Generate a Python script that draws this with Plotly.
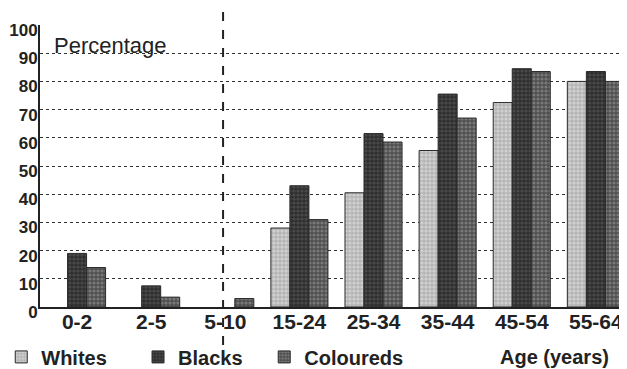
import plotly.graph_objects as go

age_groups = ["0-2", "2-5", "5-10", "15-24", "25-34", "35-44", "45-54", "55-64"]
whites = [None, None, None, 28, 40.5, 55.5, 72.5, 80]
blacks = [19, 7.5, None, 43, 61.5, 75.5, 84.5, 83.5]
coloureds = [14, 3.5, 3, 31, 58.5, 67, 83.5, 80]
y_ticks = [0, 10, 20, 30, 40, 50, 60, 70, 80, 90, 100]

FONT = "Liberation Sans, Arial, sans-serif"

series = [
    ("Whites", whites, "#b4b4b4", "#ececec", "legend", -0.066),
    ("Blacks", blacks, "#2e2e2e", "#646464", "legend2", 0.167),
    ("Coloureds", coloureds, "#4e4e4e", "#a4a4a4", "legend3", 0.382),
]

fig = go.Figure()
legend_layout = {}
for name, vals, bg, fg, leg, lx in series:
    fig.add_trace(go.Bar(
        name=name, x=age_groups, y=vals, legend=leg,
        marker=dict(
            color=bg,
            line=dict(color="#2a2a2a", width=1),
            pattern=dict(shape=".", bgcolor=bg, fgcolor=fg, size=4, solidity=0.5, fillmode="overlay"),
        ),
    ))
    legend_layout[leg] = dict(
        orientation="h", x=lx, y=-0.177, xanchor="left", yanchor="middle",
        font=dict(size=20, family=FONT, weight="bold", color="#222"),
        bgcolor="rgba(0,0,0,0)",
    )

# the page body adds an 8px margin, so the layout is offset to compensate
fig.update_layout(
    width=627, height=369,
    margin=dict(l=32, r=8, t=17, b=70, autoexpand=False),
    paper_bgcolor="white", plot_bgcolor="white",
    barmode="group", bargap=0.23, bargroupgap=0,
    font=dict(family=FONT, color="#222"),
    showlegend=True,
    **legend_layout,
    xaxis=dict(
        type="category", range=[-0.5, 7.42], automargin=False,
        showline=True, linecolor="#222", linewidth=2,
        ticks="", showgrid=False, ticklabelstandoff=-5,
        tickfont=dict(size=21, family=FONT, weight="bold", color="#222"),
    ),
    yaxis=dict(
        range=[0, 100], tickvals=y_ticks, automargin=False,
        showline=True, linecolor="#222", linewidth=2,
        zeroline=False, ticks="", ticklabelstandoff=-3, ticklabelshift=5,
        showgrid=True, gridcolor="#333", griddash="dot", gridwidth=1,
        tickfont=dict(size=17, family=FONT, weight="bold", color="#222"),
    ),
    shapes=[dict(
        type="line", xref="x", yref="paper", x0=1.97, x1=1.97, y0=-0.135, y1=1.089,
        line=dict(color="#222", width=2, dash="dash"), layer="above",
    )],
    annotations=[
        dict(text="Percentage", xref="paper", yref="paper", x=0.02, y=0.929,
             xanchor="left", yanchor="middle", showarrow=False,
             font=dict(size=22, family=FONT, color="#222")),
        dict(text="Age (years)", xref="paper", yref="paper", x=0.877, y=-0.177,
             xanchor="center", yanchor="middle", showarrow=False,
             font=dict(size=20, family=FONT, weight="bold", color="#222")),
    ],
)

fig.write_html("out.html")
